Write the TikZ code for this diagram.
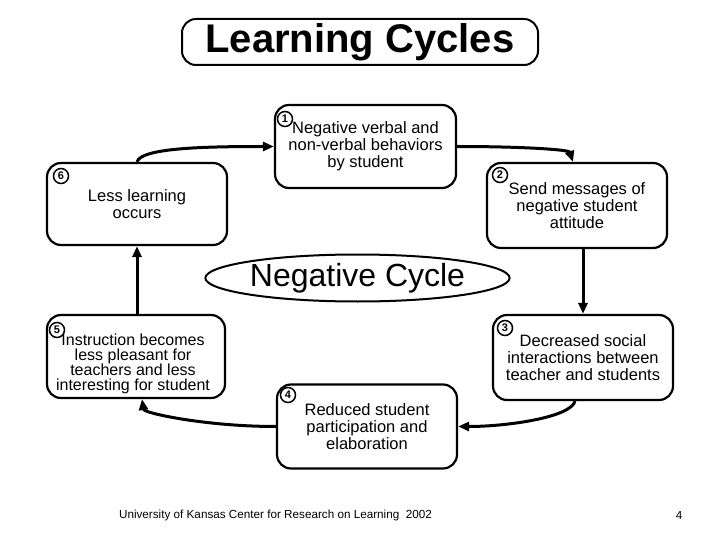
\documentclass[tikz,border=0pt]{standalone}
\usepackage{fontspec}
\setmainfont{Liberation Sans}
\usetikzlibrary{arrows.meta,shapes.geometric,calc}
\tikzset{
  box/.style={draw, line width=2.2pt, rounded corners=14pt, fill=white, align=center,
    inner sep=0pt, font=\fontsize{16.5}{16.8}\selectfont},
  num/.style={draw, circle, line width=1.5pt, inner sep=0pt, minimum size=15pt,
    font=\fontsize{11}{11}\selectfont\bfseries},
  conn/.style={line width=3pt, -{Triangle[length=11pt,width=9pt]}},
}
\begin{document}
\begin{tikzpicture}[x=1pt,y=-1pt]
\useasboundingbox (0,0) rectangle (720,540);
% title
\node[draw, line width=2pt, rounded corners=14pt, minimum width=356pt, minimum height=46pt,
  inner sep=0pt, font=\fontsize{40}{41}\selectfont\bfseries] (title) at (360,42) {Learning Cycles};
% cycle label
\node[draw, ellipse, line width=2pt, minimum width=281pt, minimum height=47pt, inner sep=0pt,
  font=\fontsize{32}{33}\selectfont] (cyc) at (357.5,278) {Negative Cycle};
% boxes
\node[box, minimum width=181pt, minimum height=83pt] (b1) at (365.5,146.5)
  {Negative verbal and\\non-verbal behaviors\\by student};
\node[box, minimum width=180pt, minimum height=85pt] (b2) at (577,205.5)
  {Send messages of\\negative student\\attitude};
\node[box, minimum width=180pt, minimum height=85pt] (b3) at (583,357.5)
  {Decreased social\\interactions between\\teacher and students};
\node[box, minimum width=180pt, minimum height=84pt] (b4) at (367,426.5)
  {Reduced student\\participation and\\elaboration};
\node[box, minimum width=178pt, minimum height=83pt] (b5) at (136,356.5) {};
\node[align=center, inner sep=0pt, font=\fontsize{16}{15}\selectfont] (t5) at (133,364)
  {Instruction becomes\\less pleasant for\\teachers and less\\interesting for student};
\node[box, minimum width=180pt, minimum height=82pt] (b6) at (137,204)
  {Less learning\\occurs};
% numbers
\node[num] (n1) at (285,119) {1};
\node[num] (n2) at (500,175) {2};
\node[num] (n3) at (505,328) {3};
\node[num] (n4) at (288,395) {4};
\node[num] (n5) at (57,330) {5};
\node[num] (n6) at (61,176) {6};
% connectors
\draw[conn] (b6.north) .. controls +(4,-14) and +(-70,0) .. (b1.west);
\draw[conn] (b1.east) .. controls +(70,0) and +(-4,-12) .. ($(b2.north)+(-4,0)$);
\draw[conn] (b2.south -| b3.north) -- (b3.north);
\draw[conn] ($(b3.south)+(-8,0)$) .. controls +(-4,16) and +(50,0) .. (b4.east);
\draw[conn] (b4.west) .. controls +(-70,0) and +(2,14) .. ($(b5.south)+(6,0)$);
\draw[conn] (b5.north -| b6.south) -- (b6.south);
% footer
\node[font=\fontsize{11.7}{13}\selectfont] (foot) at (275.5,515)
  {University of Kansas Center for Research on Learning\ \ 2002};
\node[font=\fontsize{11.7}{13}\selectfont] (page) at (679,515) {4};
\end{tikzpicture}
\end{document}
